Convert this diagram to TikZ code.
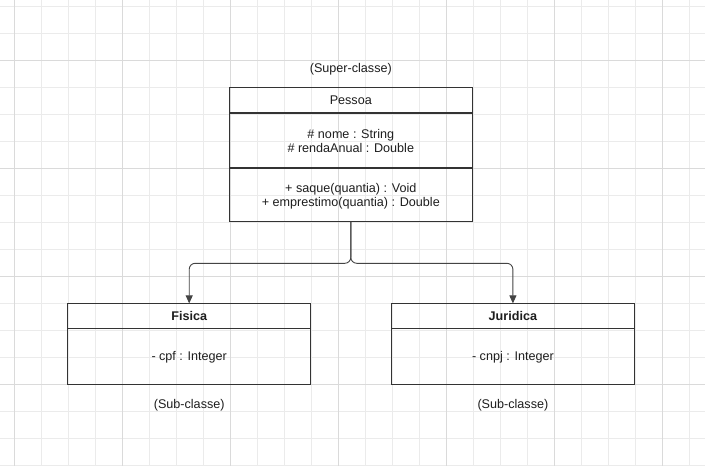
\documentclass[tikz,border=0pt]{standalone}
\usepackage{fontspec}
\setmainfont{Liberation Sans}
\usetikzlibrary{arrows.meta}
\definecolor{minorgrid}{HTML}{EBEBEB}
\definecolor{majorgrid}{HTML}{DADADA}
\definecolor{boxline}{HTML}{333333}
\definecolor{connline}{HTML}{444444}
\definecolor{txt}{HTML}{1E1E1E}
\begin{document}
\begin{tikzpicture}[x=1pt,y=-1pt,
  compartment/.style={draw=boxline, line width=1.2pt, minimum width=243pt, inner sep=0pt, outer sep=0pt,
    text depth=0pt, align=center, text=txt, font=\fontsize{12.6}{14}\selectfont},
  caption/.style={text=txt, font=\fontsize{12.6}{14}\selectfont, inner sep=0pt},
  conn/.style={draw=connline, line width=0.9pt, rounded corners=6pt,
    -{Triangle[length=8pt,width=7pt]}}]
\fill[white] (0,0) rectangle (705,466);
\useasboundingbox (0,0) rectangle (705,466);
% grid
\foreach \i in {0,...,25} {\draw[minorgrid, line width=0.8pt] ({14.3+27*\i},0) -- ({14.3+27*\i},466);}
\foreach \j in {0,...,17} {\draw[minorgrid, line width=0.8pt] (0,{6.3+27*\j}) -- (705,{6.3+27*\j});}
\foreach \i in {0,...,6} {\draw[majorgrid, line width=0.8pt] ({14.3+108*\i},0) -- ({14.3+108*\i},466);}
\foreach \j in {0,...,3} {\draw[majorgrid, line width=0.8pt] (0,{60.3+108*\j}) -- (705,{60.3+108*\j});}

% Pessoa
\node[caption] (superLbl) at (350.8,69) {(Super-classe)};
\node[compartment, minimum height=25.3pt] (pessoaHead) at (350.8,100.35) {Pessoa};
\node[compartment, minimum height=55pt, anchor=north] (pessoaAttr) at (pessoaHead.south)
  {\# nome : String\\\# rendaAnual : Double};
\node[compartment, minimum height=53.7pt, anchor=north] (pessoaMeth) at (pessoaAttr.south)
  {+ saque(quantia) : Void\\+ emprestimo(quantia) : Double};

% Fisica
\node[compartment, minimum height=25pt, font=\fontsize{12.6}{14}\selectfont\bfseries] (fisicaHead) at (189.2,315.9) {Fisica};
\node[compartment, minimum height=56pt, anchor=north] (fisicaBody) at (fisicaHead.south) {- cpf : Integer};
\node[caption] (subLblA) at (189.2,405) {(Sub-classe)};

% Juridica
\node[compartment, minimum height=25pt, font=\fontsize{12.6}{14}\selectfont\bfseries] (juridicaHead) at (512.9,315.9) {Juridica};
\node[compartment, minimum height=56pt, anchor=north] (juridicaBody) at (juridicaHead.south) {- cnpj : Integer};
\node[caption] (subLblB) at (512.9,405) {(Sub-classe)};

% connectors
\coordinate (fork) at (350.8,263.3);
\draw[conn] (pessoaMeth.south) -- (fork) -| (fisicaHead.north);
\draw[conn] (pessoaMeth.south) -- (fork) -| (juridicaHead.north);
\end{tikzpicture}
\end{document}
